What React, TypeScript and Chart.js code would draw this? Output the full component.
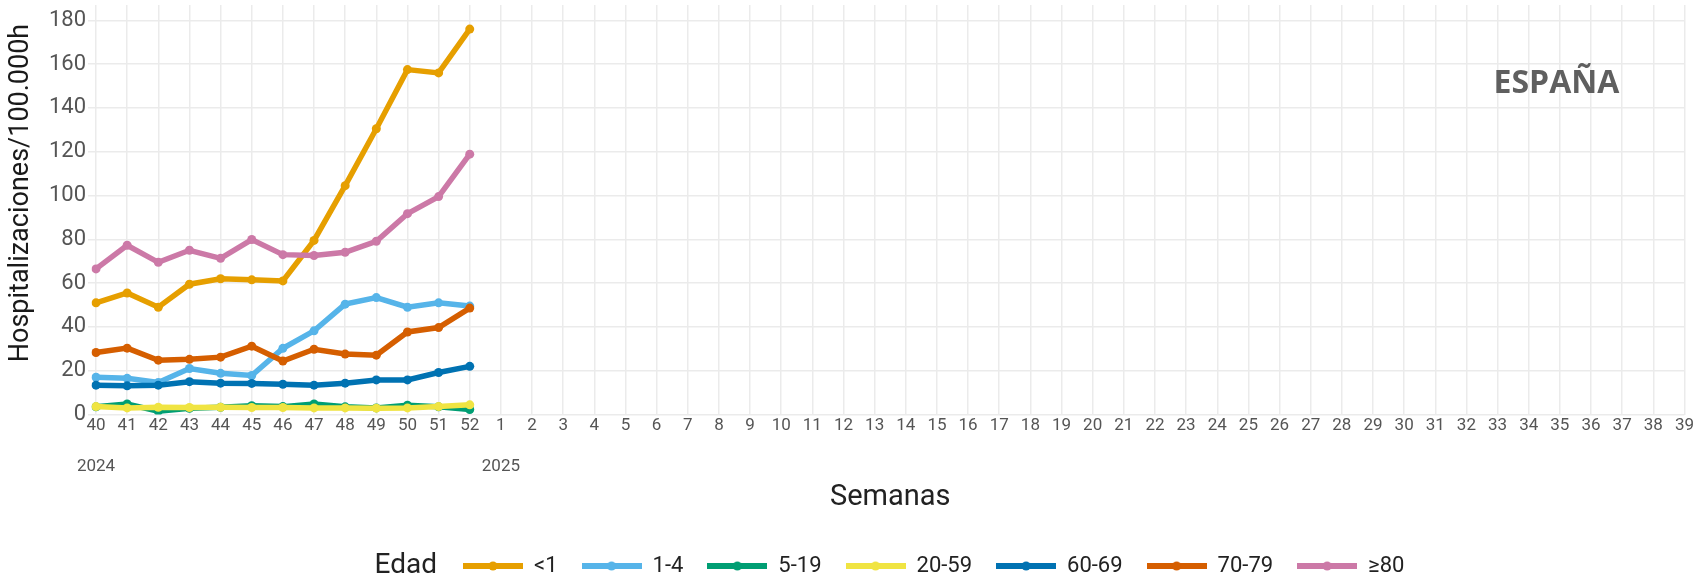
import React, { useEffect, useRef } from 'react';
import { Chart, registerables } from 'chart.js';

Chart.register(...registerables);

// ---- Data ----
const weeks = [
  '40', '41', '42', '43', '44', '45', '46', '47', '48', '49', '50', '51', '52',
  '1', '2', '3', '4', '5', '6', '7', '8', '9', '10', '11', '12', '13', '14', '15',
  '16', '17', '18', '19', '20', '21', '22', '23', '24', '25', '26', '27', '28', '29',
  '30', '31', '32', '33', '34', '35', '36', '37', '38', '39',
];
const yearStartWeeks = ['40', '1'];
const yearLabels = ['2024', '2025'];
const yTicks = [0, 20, 40, 60, 80, 100, 120, 140, 160, 180];

const seriesNames = ['<1', '1-4', '5-19', '20-59', '60-69', '70-79', '≥80'];
const seriesColors = ['#E69F00', '#56B4E9', '#009E73', '#F0E442', '#0072B2', '#D55E00', '#CC79A7'];

const ageLt1 = [51, 55.5, 49, 59.5, 62, 61.5, 61, 79.5, 104.5, 130.5, 157.5, 156, 176];
const age1to4 = [17, 16.5, 14.6, 21, 18.8, 17.8, 30.2, 38.2, 50.4, 53.4, 49, 51, 49.5];
const age5to19 = [3.5, 4.8, 1.5, 2.8, 3.3, 4.0, 3.6, 4.8, 3.5, 3.0, 4.2, 3.5, 2.3];
const age20to59 = [3.6, 3.0, 3.3, 3.2, 3.3, 3.2, 3.2, 3.0, 3.0, 2.9, 3.0, 3.6, 4.4];
const age60to69 = [13.4, 13.1, 13.4, 15, 14.3, 14.2, 13.8, 13.4, 14.3, 15.8, 15.8, 19.2, 22];
const age70to79 = [28.3, 30.3, 24.8, 25.2, 26.2, 31.2, 24.4, 29.8, 27.6, 27.1, 37.7, 39.7, 48.6];
const age80plus = [66.5, 77.3, 69.5, 75, 71.3, 79.9, 73, 72.6, 74.1, 79.1, 91.7, 99.5, 118.9];

const seriesValues = [ageLt1, age1to4, age5to19, age20to59, age60to69, age70to79, age80plus];

const yTitle = 'Hospitalizaciones/100.000h';
const xTitle = 'Semanas';
const legendTitle = 'Edad';
const regionLabel = 'ESPAÑA';

const FONT = 'Roboto, "Noto Sans", sans-serif';

function makeLegendIcon(color: string): HTMLCanvasElement {
  const c = document.createElement('canvas');
  c.width = 60;
  c.height = 12;
  const ctx = c.getContext('2d')!;
  ctx.strokeStyle = color;
  ctx.lineWidth = 6;
  ctx.beginPath();
  ctx.moveTo(0, 6);
  ctx.lineTo(60, 6);
  ctx.stroke();
  ctx.fillStyle = color;
  ctx.beginPath();
  ctx.arc(30, 6, 4.5, 0, Math.PI * 2);
  ctx.fill();
  return c;
}

const layoutTweaks = {
  id: 'layoutTweaks',
  afterLayout(chart: any) {
    const lg = chart.legend;
    if (!lg) return;
    const pad = lg.options.labels.padding;
    const fs = lg.options.labels.font.size;
    const targetLeft = 463;
    const targetCenterY = 566;
    const dx = targetLeft - pad - lg.left;
    const dy = targetCenterY - (lg.top + pad + fs / 2);
    lg.left += dx;
    lg.right += dx;
    lg.top += dy;
    lg.bottom += dy;
  },
  afterDraw(chart: any) {
    const ctx = chart.ctx;
    const lg = chart.legend;
    ctx.save();
    if (lg && lg.legendHitBoxes && lg.legendHitBoxes.length) {
      const hb = lg.legendHitBoxes[0];
      ctx.font = `28px ${FONT}`;
      ctx.fillStyle = '#222222';
      ctx.textAlign = 'right';
      ctx.textBaseline = 'middle';
      ctx.fillText(legendTitle, hb.left - 26, hb.top + hb.height / 2);
    }
    const area = chart.chartArea;
    ctx.font = `bold 32px "Open Sans", ${FONT}`;
    ctx.fillStyle = '#5f5f5f';
    ctx.textAlign = 'center';
    ctx.textBaseline = 'alphabetic';
    ctx.fillText(regionLabel, area.right - 128, area.top + 88);
    ctx.restore();
  },
};

export default function App() {
  const canvasRef = useRef<HTMLCanvasElement | null>(null);

  useEffect(() => {
    if (!canvasRef.current) return;
    const icons = seriesColors.map(makeLegendIcon);
    const datasets = seriesNames.map((name, i) => ({
      label: name,
      data: seriesValues[i],
      borderColor: seriesColors[i],
      backgroundColor: seriesColors[i],
      borderWidth: 5.5,
      pointRadius: 4.5,
      pointHoverRadius: 4.5,
      pointBorderWidth: 0,
      pointBackgroundColor: seriesColors[i],
      tension: 0,
      fill: false,
      order: seriesNames.length - i,
    }));

    const chart = new Chart(canvasRef.current, {
      type: 'line',
      data: { labels: weeks, datasets },
      plugins: [layoutTweaks],
      options: {
        animation: false,
        responsive: false,
        events: [],
        layout: { padding: { top: 5, right: 2, left: 0, bottom: 0 } },
        scales: {
          x: {
            grid: { color: '#ebebeb', lineWidth: 1.5, drawTicks: false },
            border: { display: false },
            ticks: {
              autoSkip: false,
              maxRotation: 0,
              padding: 1,
              color: '#555555',
              font: { family: FONT, size: 17, lineHeight: 1.2 },
              callback: (_v: any, idx: number) => {
                const w = weeks[idx];
                const k = yearStartWeeks.indexOf(w);
                return k >= 0 ? [w, '', yearLabels[k]] : w;
              },
            },
            title: {
              display: true,
              text: xTitle,
              color: '#222222',
              font: { family: FONT, size: 29 },
              padding: { top: 3, bottom: 3.5 },
            },
          },
          y: {
            min: 0,
            max: 187,
            grid: { color: '#ebebeb', lineWidth: 1.5, tickLength: 8 },
            border: { display: false },
            afterBuildTicks: (scale: any) => {
              scale.ticks = yTicks.map((v) => ({ value: v }));
            },
            afterFit: (scale: any) => {
              scale.width = 96;
              scale.paddingTop = 0;
              scale.paddingBottom = 0;
            },
            ticks: {
              padding: 2,
              color: '#555555',
              font: { family: FONT, size: 22 },
            },
            title: {
              display: true,
              text: '     ' + yTitle,
              color: '#1a1a1a',
              font: { family: FONT, size: 27 },
              padding: { top: 5, bottom: 0 },
            },
          },
        },
        plugins: {
          title: { display: false },
          tooltip: { enabled: false },
          legend: {
            display: true,
            position: 'bottom',
            align: 'start',
            labels: {
              usePointStyle: true,
              pointStyleWidth: 60,
              padding: 24,
              color: '#222222',
              font: { family: FONT, size: 22 },
              generateLabels: (ch: any) => {
                const items = Chart.defaults.plugins.legend.labels.generateLabels(ch);
                items.sort((a: any, b: any) => a.datasetIndex - b.datasetIndex);
                return items.map((it: any) => ({ ...it, pointStyle: icons[it.datasetIndex] }));
              },
            },
          },
        },
      },
    } as any);
    return () => chart.destroy();
  }, []);

  return (
    <div style={{ position: 'absolute', left: 0, top: 0, width: 1695, height: 575 }}>
      <canvas ref={canvasRef} width={1695} height={575} style={{ display: 'block' }} />
    </div>
  );
}
